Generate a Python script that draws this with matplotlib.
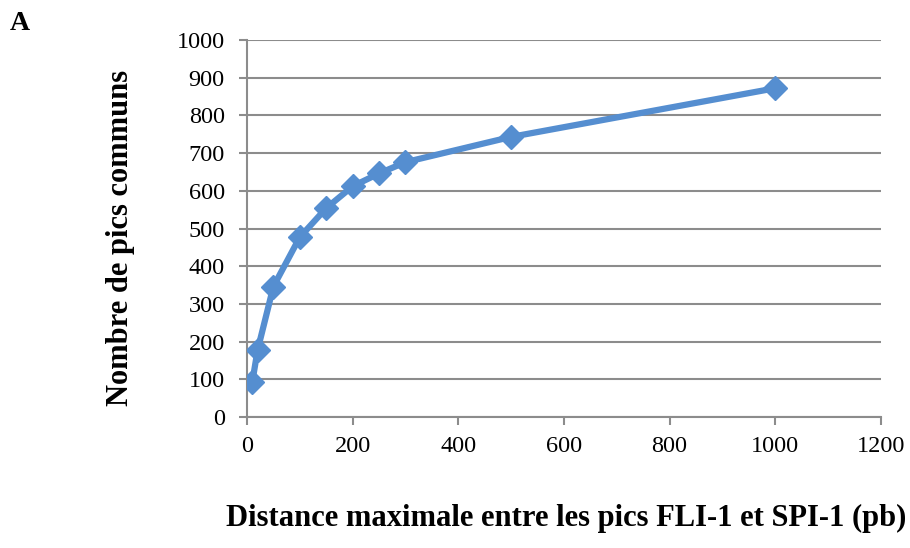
import matplotlib.pyplot as plt

distance = [10, 20, 50, 100, 150, 200, 250, 300, 500, 1000]
pics_communs = [92, 177, 346, 477, 554, 612, 646, 676, 743, 872]

plt.rcParams['font.family'] = ['Liberation Serif', 'DejaVu Serif']

fig = plt.figure(figsize=(9.1, 5.48), dpi=100)
ax = fig.add_axes([0.2714, 0.239, 0.6966, 0.688])

grid_col = '#8c8c8c'
ax.plot(distance, pics_communs, color='#558ed0', lw=4.5, marker='D', ms=12,
        solid_joinstyle='round', zorder=3)

ax.set_xlim(0, 1200)
ax.set_ylim(0, 1000)
ax.set_xticks(range(0, 1201, 200))
ax.set_yticks(range(0, 1001, 100))
ax.yaxis.grid(True, color=grid_col, lw=1.5)
ax.set_axisbelow(True)

for s in ['top', 'right']:
    ax.spines[s].set_visible(False)
for s in ['left', 'bottom']:
    ax.spines[s].set_color(grid_col)
    ax.spines[s].set_linewidth(1.5)
ax.tick_params(axis='both', colors=grid_col, width=1.5, length=6, labelsize=17.5,
               labelcolor='black')
ax.tick_params(axis='y', pad=10)
ax.tick_params(axis='x', pad=8)

fig.text(0.132, 0.565, 'Nombre de pics communs', fontsize=22, fontweight='bold',
         rotation=90, ha='center', va='center')
fig.text(0.622, 0.04, 'Distance maximale entre les pics FLI-1 et SPI-1 (pb)',
         fontsize=22, fontweight='bold', ha='center')
fig.text(0.011, 0.945, 'A', fontsize=20, fontweight='bold')

fig.savefig('out.png', dpi=100)
